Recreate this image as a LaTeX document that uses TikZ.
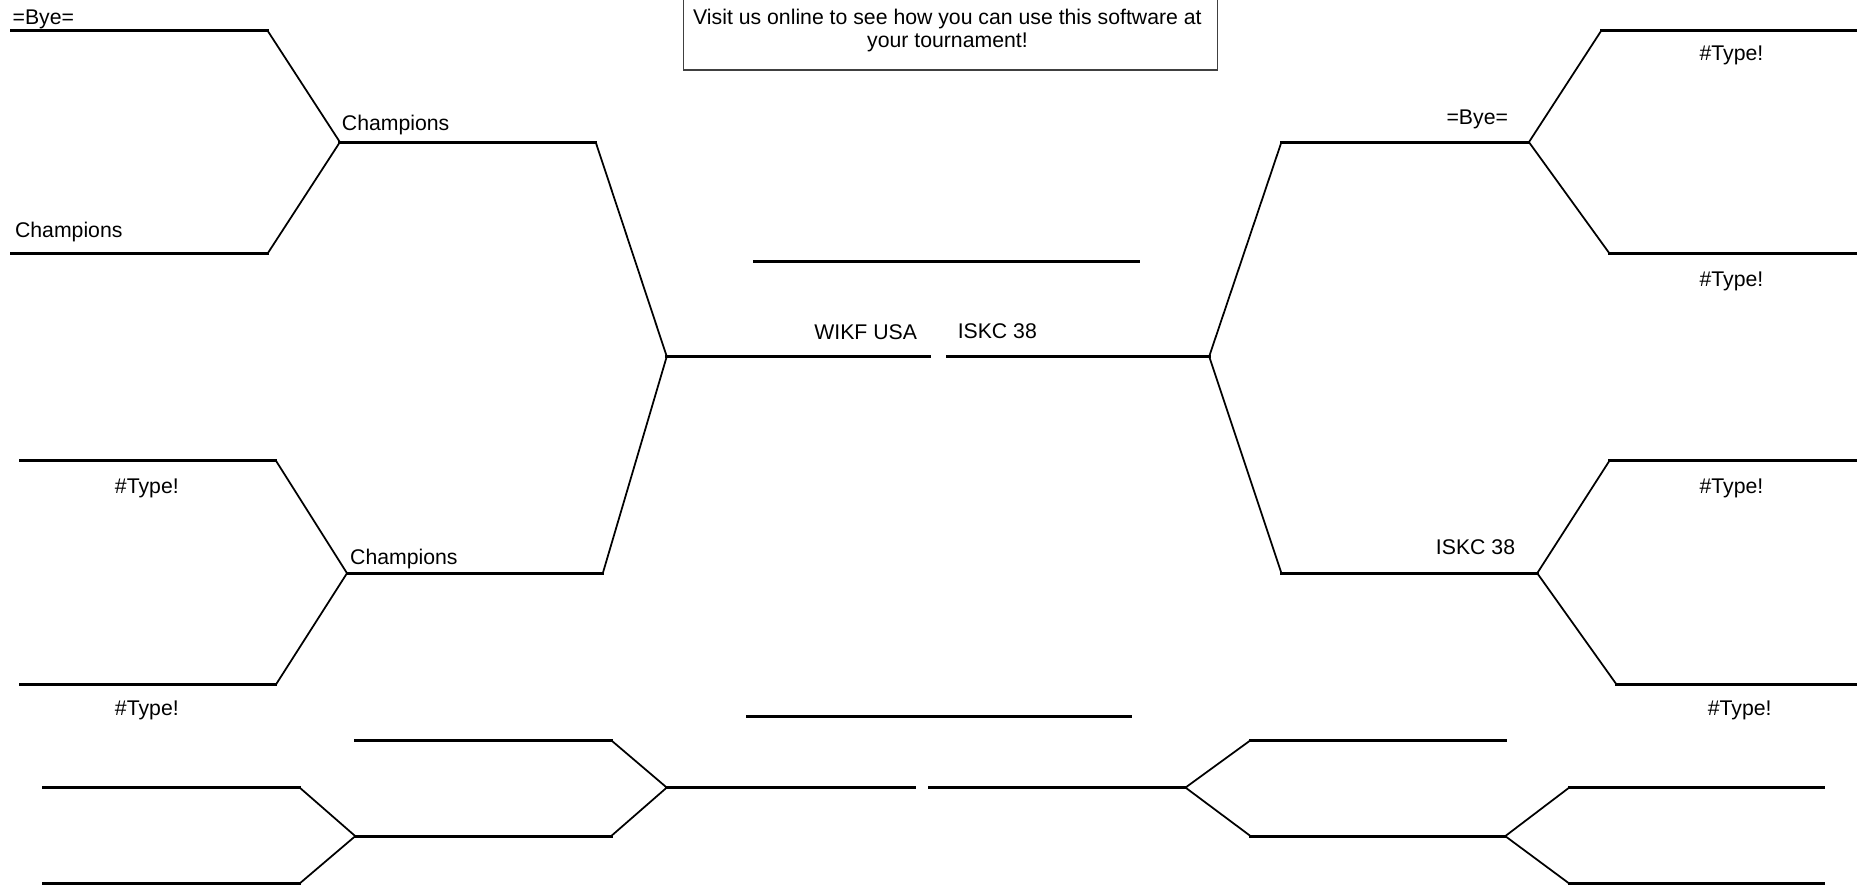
\documentclass[tikz,border=0pt]{standalone}
\usepackage{fontspec}
\setmainfont{Liberation Sans}
\usepackage{tikz}
\usetikzlibrary{positioning}

\begin{document}
\begin{tikzpicture}[
  x=0.01cm, y=-0.01cm,
  every node/.style = {font=\fontsize{5.1}{5.7}\selectfont, inner sep=0pt},
  slot/.style       = {line width=0.7pt, line cap=rect},
  link/.style       = {line width=0.42pt},
  notebox/.style    = {draw=black!75, line width=0.3pt},
]
\useasboundingbox (0,0) rectangle (1568,748);

%% ── Note box at the top (cut by the page edge) ───────────────────────────
\draw[notebox] (577,-30) rectangle (1028,59);
\node[anchor=base] (noteA) at (800,20.5) {Visit us online to see how you can use this software at};
\node[anchor=base] (noteB) at (800,40.5) {your tournament!};

% ── LEFT HALF: UPPER BRACKET ───────────────────────────────────────────────
\draw[slot] (10,26) -- (226,26);
\draw[slot] (10,214) -- (226,214);
\draw[link] (226,26) -- (287,120) -- (226,214);
\draw[slot] (287,120) -- (503,120);
\draw[link] (503,120) -- (563,301);

\node[anchor=base west] (byeL)   at (10,20.5)   {=Bye=};
\node[anchor=base west] (champL) at (12,200.5)  {Champions};
\node[anchor=base west] (champA) at (288,110.5) {Champions};

% ── LEFT HALF: LOWER BRACKET ───────────────────────────────────────────────
\draw[slot] (17,389) -- (233,389);
\draw[slot] (17,578) -- (233,578);
\draw[link] (233,389) -- (293,484) -- (233,578);
\draw[slot] (293,484) -- (509,484);
\draw[link] (509,484) -- (563,301);

\node[anchor=base]      (typeLa) at (124,416.5) {\#Type!};
\node[anchor=base]      (typeLb) at (124,604.5) {\#Type!};
\node[anchor=base west] (champB) at (295,476.5) {Champions};

% ── FINAL ──────────────────────────────────────────────────────────────────
\draw[slot] (563,301) -- (785,301);
\draw[slot] (800,301) -- (1021,301);
\draw[slot] (637,221) -- (961,221);
\draw[slot] (631,605) -- (955,605);

\node[anchor=base east] (finL) at (775,287) {WIKF USA};
\node[anchor=base west] (finR) at (808,286) {ISKC 38};

% ── RIGHT HALF: UPPER BRACKET ──────────────────────────────────────────────
\draw[slot] (1568,26) -- (1352,26);
\draw[slot] (1568,214) -- (1359,214);
\draw[link] (1352,26) -- (1291,120) -- (1359,214);
\draw[slot] (1291,120) -- (1082,120);
\draw[link] (1082,120) -- (1021,301);

\node[anchor=base]      (typeRa) at (1462,51.5)  {\#Type!};
\node[anchor=base]      (typeRb) at (1462,241.5) {\#Type!};
\node[anchor=base east] (byeR)   at (1274,105.5) {=Bye=};

% ── RIGHT HALF: LOWER BRACKET ──────────────────────────────────────────────
\draw[slot] (1568,389) -- (1359,389);
\draw[slot] (1568,578) -- (1365,578);
\draw[link] (1359,389) -- (1298,484) -- (1365,578);
\draw[slot] (1298,484) -- (1082,484);
\draw[link] (1082,484) -- (1021,301);

\node[anchor=base]      (typeRc) at (1462,416.5) {\#Type!};
\node[anchor=base]      (typeRd) at (1469,604.5) {\#Type!};
\node[anchor=base east] (iskcR)  at (1280,468.5) {ISKC 38};

%% ── Third-place bracket at the bottom ────────────────────────────────────
% left side
\draw[slot] (300,625) -- (516,625);
\draw[slot] (37,665) -- (253,665);
\draw[slot] (37,746) -- (253,746);
\draw[link] (253,665) -- (300,706) -- (253,746);
\draw[slot] (300,706) -- (516,706);
\draw[link] (516,625) -- (563,665) -- (516,706);
\draw[slot] (563,665) -- (772,665);

% right side
\draw[slot] (785,665) -- (1001,665);
\draw[link] (1056,625) -- (1001,665) -- (1056,706);
\draw[slot] (1056,625) -- (1271,625);
\draw[slot] (1056,706) -- (1271,706);
\draw[link] (1325,665) -- (1271,706) -- (1325,746);
\draw[slot] (1325,665) -- (1540,665);
\draw[slot] (1325,746) -- (1540,746);

\end{tikzpicture}
\end{document}
